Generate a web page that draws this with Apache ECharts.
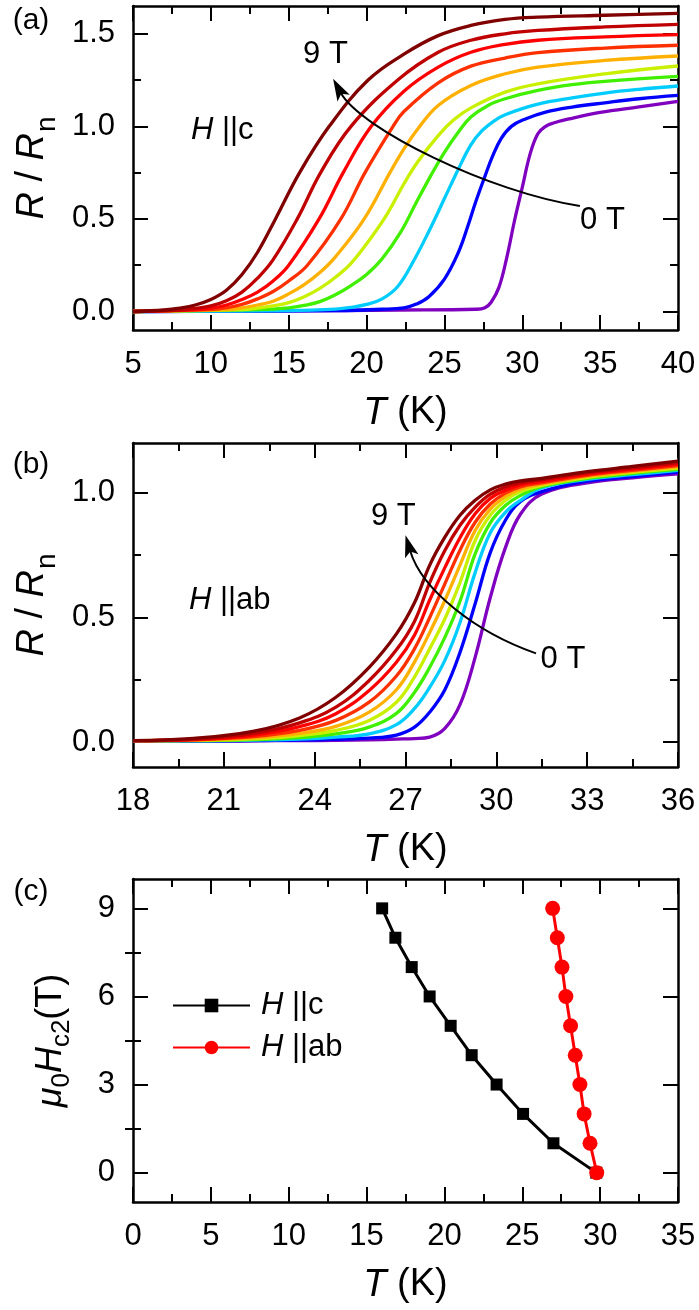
<!DOCTYPE html>
<html>
<head>
<meta charset="utf-8">
<script src="https://cdn.jsdelivr.net/npm/echarts@6/dist/echarts.min.js"></script>
<style>
  html, body { margin: 0; padding: 0; background: #fff; }
  #chart { width: 699px; height: 1310px; }
</style>
</head>
<body>
<div id="chart"></div>
<script>
// 0 T ... 9 T 的曲线颜色
const fieldColors = ['#8000c0', '#0000ff', '#00ccff', '#40f000', '#c8f000', '#ffb000', '#ff3000', '#ff0000', '#c00000', '#800000'];
const fieldNames = ['0 T', '1 T', '2 T', '3 T', '4 T', '5 T', '6 T', '7 T', '8 T', '9 T'];

// (a) H||c, 每条曲线为 [T (K), R/Rn]
const a0 = [[5, 0], [15, 0.003], [22, 0.008], [27, 0.012], [27.6, 0.02], [28.0, 0.05], [28.5, 0.13], [29.0, 0.29], [29.5, 0.49], [30.0, 0.67], [30.5, 0.85], [31.0, 0.96], [31.5, 1.0], [32.0, 1.018], [33.0, 1.04], [35.0, 1.075], [37.5, 1.105], [40, 1.135]];
const a1 = [[5, 0], [18, 0.005], [21, 0.012], [22.4, 0.02], [23.2, 0.04], [24, 0.08], [25, 0.175], [25.9, 0.32], [26.5, 0.46], [27, 0.59], [27.6, 0.73], [28.1, 0.84], [28.65, 0.935], [29.3, 1.0], [30.2, 1.04], [31.5, 1.077], [33.2, 1.104], [35.3, 1.127], [37.5, 1.149], [40, 1.167]];
const a2 = [[5, 0], [15, 0.005], [18, 0.013], [19, 0.022], [20, 0.038], [21, 0.068], [22, 0.135], [23, 0.27], [24.1, 0.45], [25, 0.61], [25.9, 0.77], [26.7, 0.9], [27.4, 0.975], [28.2, 1.03], [28.9, 1.063], [31, 1.12], [33.2, 1.154], [35.3, 1.18], [37.5, 1.2], [40, 1.218]];
const a3 = [[5, 0], [13, 0.01], [15, 0.02], [16, 0.033], [17, 0.053], [18, 0.09], [19, 0.14], [20, 0.2], [21, 0.285], [22.2, 0.43], [23.2, 0.59], [24.1, 0.73], [25, 0.86], [25.9, 0.97], [26.7, 1.05], [27.8, 1.113], [28.9, 1.149], [31, 1.194], [33.2, 1.225], [35.3, 1.243], [40, 1.27]];
const a4 = [[5, 0], [12, 0.01], [13, 0.018], [14, 0.03], [15, 0.048], [16, 0.08], [17, 0.125], [18, 0.185], [19, 0.26], [20.3, 0.40], [21.35, 0.53], [22.4, 0.69], [23.3, 0.81], [24.6, 0.95], [25.6, 1.035], [26.7, 1.1], [28.9, 1.185], [31, 1.23], [35.3, 1.284], [40, 1.326]];
const a5 = [[5, 0], [11, 0.01], [12, 0.02], [13, 0.035], [14, 0.055], [15, 0.095], [16, 0.145], [17, 0.21], [18, 0.295], [19.85, 0.5], [21.5, 0.75], [22.4, 0.878], [23.3, 0.987], [24.6, 1.113], [26.7, 1.221], [28.9, 1.284], [31, 1.32], [35.3, 1.356], [40, 1.38]];
const a6 = [[5, 0], [10, 0.01], [11, 0.02], [12, 0.038], [13, 0.068], [14, 0.108], [15, 0.165], [16.2, 0.25], [18.35, 0.5], [19.9, 0.75], [21.7, 1.0], [22.4, 1.08], [24.6, 1.235], [26.7, 1.325], [28.9, 1.369], [31, 1.398], [35.3, 1.423], [40, 1.438]];
const a7 = [[5, 0], [9, 0.01], [10, 0.018], [11, 0.035], [12, 0.065], [13, 0.105], [14, 0.165], [15, 0.25], [16.95, 0.5], [18.5, 0.75], [20.3, 1.0], [22.4, 1.19], [24.6, 1.32], [26.7, 1.40], [28.9, 1.443], [31, 1.465], [35.3, 1.483], [40, 1.495]];
const a8 = [[5, 0], [8, 0.008], [9, 0.017], [10, 0.03], [11, 0.058], [12, 0.105], [13, 0.18], [14, 0.28], [15.55, 0.5], [17.05, 0.75], [19, 1.0], [22, 1.25], [24.6, 1.40], [26.7, 1.465], [28.9, 1.5], [31, 1.518], [35.3, 1.537], [40, 1.551]];
const a9 = [[5, 0], [7, 0.008], [8, 0.018], [9, 0.035], [10, 0.065], [11, 0.115], [12, 0.2], [13, 0.32], [14.15, 0.5], [15.7, 0.75], [17.6, 1.0], [20.1, 1.25], [22.4, 1.39], [24.6, 1.49], [26.7, 1.545], [28.9, 1.578], [31, 1.59], [35.3, 1.6], [40, 1.61]];

// (b) H||ab, 共用温度点
const tB = [18, 20, 22, 23.5, 24.7, 25.8, 26.7, 27.3, 27.8, 28.3, 28.8, 29.3, 29.8, 30.3, 30.8, 31.5, 33, 34.5, 36];
const rB0 = [0.004, 0.004, 0.005, 0.006, 0.007, 0.009, 0.012, 0.014, 0.02, 0.055, 0.15, 0.34, 0.58, 0.78, 0.915, 0.995, 1.04, 1.06, 1.076];
const rB1 = [0.004, 0.004, 0.006, 0.008, 0.011, 0.016, 0.028, 0.06, 0.12, 0.21, 0.36, 0.555, 0.76, 0.89, 0.965, 1.005, 1.047, 1.065, 1.083];
const rB2 = [0.005, 0.005, 0.008, 0.012, 0.020, 0.033, 0.07, 0.135, 0.22, 0.328, 0.48, 0.68, 0.84, 0.922, 0.97, 1.02, 1.054, 1.073, 1.09];
const rB3 = [0.006, 0.006, 0.010, 0.018, 0.033, 0.06, 0.115, 0.20, 0.30, 0.42, 0.565, 0.755, 0.88, 0.949, 0.99, 1.025, 1.058, 1.078, 1.094];
const rB4 = [0.006, 0.007, 0.013, 0.026, 0.047, 0.087, 0.16, 0.262, 0.375, 0.495, 0.64, 0.809, 0.91, 0.969, 1.005, 1.03, 1.062, 1.082, 1.099];
const rB5 = [0.006, 0.008, 0.017, 0.035, 0.063, 0.12, 0.21, 0.322, 0.44, 0.568, 0.71, 0.849, 0.935, 0.985, 1.015, 1.035, 1.066, 1.086, 1.104];
const rB6 = [0.006, 0.009, 0.022, 0.047, 0.087, 0.16, 0.265, 0.375, 0.50, 0.635, 0.77, 0.882, 0.955, 0.999, 1.024, 1.04, 1.07, 1.09, 1.109];
const rB7 = [0.006, 0.010, 0.028, 0.062, 0.114, 0.207, 0.32, 0.43, 0.57, 0.70, 0.82, 0.916, 0.978, 1.01, 1.032, 1.046, 1.075, 1.095, 1.115];
const rB8 = [0.006, 0.012, 0.035, 0.077, 0.14, 0.247, 0.37, 0.485, 0.64, 0.769, 0.87, 0.943, 0.995, 1.023, 1.04, 1.052, 1.08, 1.10, 1.121];
const rB9 = [0.006, 0.015, 0.044, 0.097, 0.18, 0.30, 0.434, 0.56, 0.71, 0.822, 0.91, 0.97, 1.012, 1.035, 1.048, 1.058, 1.085, 1.106, 1.127];

// (c) 上临界场
const hc2 = [9, 8, 7, 6, 5, 4, 3, 2, 1, 0];
const tHc = [16.0, 16.85, 17.9, 19.05, 20.4, 21.75, 23.35, 25.05, 27.0, 29.75];
const tHab = [26.95, 27.25, 27.55, 27.8, 28.1, 28.4, 28.7, 28.97, 29.35, 29.78];

// 坐标轴刻度
const yTicksA = [0, 0.5, 1.0, 1.5], yMinorA = [0.25, 0.75, 1.25];
const yTicksB = [0, 0.5, 1.0], yMinorB = [0.25, 0.75];
const yTicksC = [0, 3, 6, 9], yMinorC = [1.5, 4.5, 7.5];

const FONT = 'Arial, "Liberation Sans", sans-serif';
const chart = echarts.init(document.getElementById('chart'));

const grids = [
    { left: 133, top: 6, width: 545, height: 324 },
    { left: 133, top: 443, width: 545, height: 324 },
    { left: 133, top: 879, width: 545, height: 323 }
];

const lineBox = { show: true, onZero: false, lineStyle: { color: '#000', width: 2.5 } };
const tickStyle = { color: '#000', width: 2 };
const italicRich = {
    i: { fontStyle: 'italic', fontFamily: FONT, fontSize: 38, color: '#000' }
};

// x 轴: 底部带标签，顶部只画刻度
function makeXAxes(grid, min, max, interval) {
    const base = {
        type: 'value', gridIndex: grid, min: min, max: max, interval: interval,
        axisLine: lineBox,
        axisTick: { show: true, inside: true, length: 15, lineStyle: tickStyle },
        minorTick: { show: true, splitNumber: 2, length: 8, lineStyle: tickStyle },
        splitLine: { show: false }
    };
    return [
        Object.assign({}, base, {
            position: 'bottom',
            axisLabel: { show: true, margin: 19, fontSize: 31, fontFamily: FONT, color: '#000', showMinLabel: true, showMaxLabel: true },
            name: '{i|T} (K)', nameLocation: 'middle', nameGap: 64,
            nameTextStyle: { fontSize: 38, fontFamily: FONT, color: '#000', rich: italicRich }
        }),
        Object.assign({}, base, { position: 'top', axisLabel: { show: false } })
    ];
}

// y 轴: 左右各一根主刻度轴和一根次刻度轴
function makeYAxes(grid, min, max, major, minor, minorLen, digits, name, nameGap, nameStyle) {
    const base = { type: 'value', gridIndex: grid, min: min, max: max, splitLine: { show: false } };
    const majorTick = { show: true, inside: true, length: 15, lineStyle: tickStyle, customValues: major };
    const minorTickCfg = { show: true, inside: true, length: minorLen, lineStyle: tickStyle, customValues: minor };
    return [
        Object.assign({}, base, {
            position: 'left', axisLine: lineBox, axisTick: majorTick,
            axisLabel: {
                show: true, customValues: major, margin: 18, fontSize: 31, fontFamily: FONT, color: '#000',
                formatter: v => v.toFixed(digits)
            },
            name: name, nameLocation: 'middle', nameRotate: 90, nameGap: nameGap, nameTextStyle: nameStyle
        }),
        Object.assign({}, base, { position: 'left', axisLine: { show: false }, axisTick: minorTickCfg, axisLabel: { show: false } }),
        Object.assign({}, base, { position: 'right', axisLine: lineBox, axisTick: majorTick, axisLabel: { show: false } }),
        Object.assign({}, base, { position: 'right', axisLine: { show: false }, axisTick: minorTickCfg, axisLabel: { show: false } })
    ];
}

const rNameStyle = {
    fontSize: 38, fontFamily: FONT, color: '#000',
    rich: {
        i: { fontStyle: 'italic', fontFamily: FONT, fontSize: 38, color: '#000', verticalAlign: 'top', lineHeight: 38 },
        n: { fontFamily: FONT, fontSize: 38, color: '#000', verticalAlign: 'top', lineHeight: 38 },
        sub: { fontFamily: FONT, fontSize: 28, color: '#000', verticalAlign: 'bottom', padding: [20, 0, 0, 1] }
    }
};
const hNameStyle = {
    fontSize: 36, fontFamily: FONT, color: '#000',
    rich: {
        mu: { fontStyle: 'italic', fontFamily: FONT, fontSize: 36, color: '#000', verticalAlign: 'top', lineHeight: 36 },
        i: { fontStyle: 'italic', fontFamily: FONT, fontSize: 36, color: '#000', verticalAlign: 'top', lineHeight: 36 },
        n: { fontFamily: FONT, fontSize: 36, color: '#000', verticalAlign: 'top', lineHeight: 36 },
        sub: { fontFamily: FONT, fontSize: 26, color: '#000', verticalAlign: 'bottom', padding: [16, 0, 0, 0] }
    }
};

const curvesA = [a0, a1, a2, a3, a4, a5, a6, a7, a8, a9];
const curvesB = [rB0, rB1, rB2, rB3, rB4, rB5, rB6, rB7, rB8, rB9];

const series = [];
curvesA.forEach((pts, k) => {
    series.push({
        name: 'a ' + fieldNames[k], type: 'line', xAxisIndex: 0, yAxisIndex: 0,
        data: pts, showSymbol: false, smooth: 0.4,
        lineStyle: { color: fieldColors[k], width: 3.3 }, itemStyle: { color: fieldColors[k] }
    });
});
curvesB.forEach((vals, k) => {
    series.push({
        name: 'b ' + fieldNames[k], type: 'line', xAxisIndex: 2, yAxisIndex: 4,
        data: tB.map((t, i) => [t, vals[i]]), showSymbol: false, smooth: 0.4,
        lineStyle: { color: fieldColors[k], width: 3.3 }, itemStyle: { color: fieldColors[k] }
    });
});
series.push({
    name: 'Hc', type: 'line', xAxisIndex: 4, yAxisIndex: 8,
    data: tHc.map((t, i) => [t, hc2[i]]),
    symbol: 'rect', symbolSize: 12, lineStyle: { color: '#000', width: 3 }, itemStyle: { color: '#000' }
});
series.push({
    name: 'Hab', type: 'line', xAxisIndex: 4, yAxisIndex: 8,
    data: tHab.map((t, i) => [t, hc2[i]]),
    symbol: 'circle', symbolSize: 15, lineStyle: { color: '#ff0000', width: 3 }, itemStyle: { color: '#ff0000' }
});

const option = {
    animation: false,
    backgroundColor: '#fff',
    grid: grids,
    xAxis: [].concat(makeXAxes(0, 5, 40, 5), makeXAxes(1, 18, 36, 3), makeXAxes(2, 0, 35, 5)),
    yAxis: [].concat(
        makeYAxes(0, -0.1, 1.65, yTicksA, yMinorA, 8, 1, '{i|R}{n| / }{i|R}{sub|n}', 64, rNameStyle),
        makeYAxes(1, -0.1, 1.2, yTicksB, yMinorB, 8, 1, '{i|R}{n| / }{i|R}{sub|n}', 64, rNameStyle),
        makeYAxes(2, -1, 10, yTicksC, yMinorC, 8, 0, '{mu|μ}{sub|0}{i|H}{sub|c2}{n|(T)}', 58, hNameStyle)
    ),
    legend: {
        data: ['Hc', 'Hab'], orient: 'vertical', left: 172, top: 990, padding: 0,
        itemWidth: 77, itemHeight: 17, itemGap: 11,
        formatter: name => name === 'Hc' ? '{i|H} ||c' : '{i|H} ||ab',
        textStyle: {
            fontSize: 31, fontFamily: FONT, color: '#000',
            rich: { i: { fontStyle: 'italic', fontSize: 31, fontFamily: FONT, color: '#000', padding: [0, 0, 0, 6] } }
        }
    },
    series: series
};
chart.setOption(option);

// 注释：文字与弯箭头，位置按数据坐标换算
const annotTexts = [
    { s: 0, at: [17.36, 1.39], text: '9 T', align: 'center' },
    { s: 0, at: [35.15, 0.49], text: '0 T', align: 'center' },
    { s: 0, at: [8.72, 0.976], text: '{i|H} ||c', align: 'left' },
    { s: 10, at: [26.6, 0.906], text: '9 T', align: 'center' },
    { s: 10, at: [32.2, 0.332], text: '0 T', align: 'center' },
    { s: 10, at: [19.85, 0.569], text: '{i|H} ||ab', align: 'left' }
];
// 起点、控制点1、控制点2、箭头尖
const arrows = [
    { s: 0, pts: [[33.7, 0.57], [27.93, 0.643], [19.61, 0.986], [17.85, 1.257]] },
    { s: 10, pts: [[31.31, 0.356], [29.33, 0.44], [27.54, 0.609], [27.0, 0.83]] }
];
const panelTags = [['(a)', 21], ['(b)', 465], ['(c)', 892]];

const graphics = [];
annotTexts.forEach(a => {
    const p = chart.convertToPixel({ seriesIndex: a.s }, a.at);
    graphics.push({
        type: 'text', x: p[0], y: p[1], z: 100,
        style: {
            text: a.text, fontSize: 31, fontFamily: FONT, fill: '#000', align: a.align, verticalAlign: 'middle',
            rich: { i: { fontStyle: 'italic', fontSize: 31, fontFamily: FONT, fill: '#000' } }
        }
    });
});
arrows.forEach(a => {
    const p = a.pts.map(q => chart.convertToPixel({ seriesIndex: a.s }, q));
    const dx = p[3][0] - p[2][0], dy = p[3][1] - p[2][1];
    const len = Math.sqrt(dx * dx + dy * dy);
    const ux = dx / len, uy = dy / len;
    const L = 22, W = 7;
    const bx = p[3][0] - ux * L, by = p[3][1] - uy * L;
    graphics.push({
        type: 'bezierCurve', z: 100,
        shape: { x1: p[0][0], y1: p[0][1], cpx1: p[1][0], cpy1: p[1][1], cpx2: p[2][0], cpy2: p[2][1], x2: bx + ux * 6, y2: by + uy * 6 },
        style: { stroke: '#000', lineWidth: 2, fill: null }
    });
    graphics.push({
        type: 'polygon', z: 101,
        shape: { points: [p[3], [bx - uy * W, by + ux * W], [bx + ux * 5, by + uy * 5], [bx + uy * W, by - ux * W]] },
        style: { fill: '#000' }
    });
});
panelTags.forEach(t => {
    graphics.push({
        type: 'text', x: 31, y: t[1], z: 100,
        style: { text: t[0], fontSize: 30, fontFamily: FONT, fill: '#000', align: 'center', verticalAlign: 'middle' }
    });
});
chart.setOption({ graphic: graphics });
</script>
</body>
</html>
